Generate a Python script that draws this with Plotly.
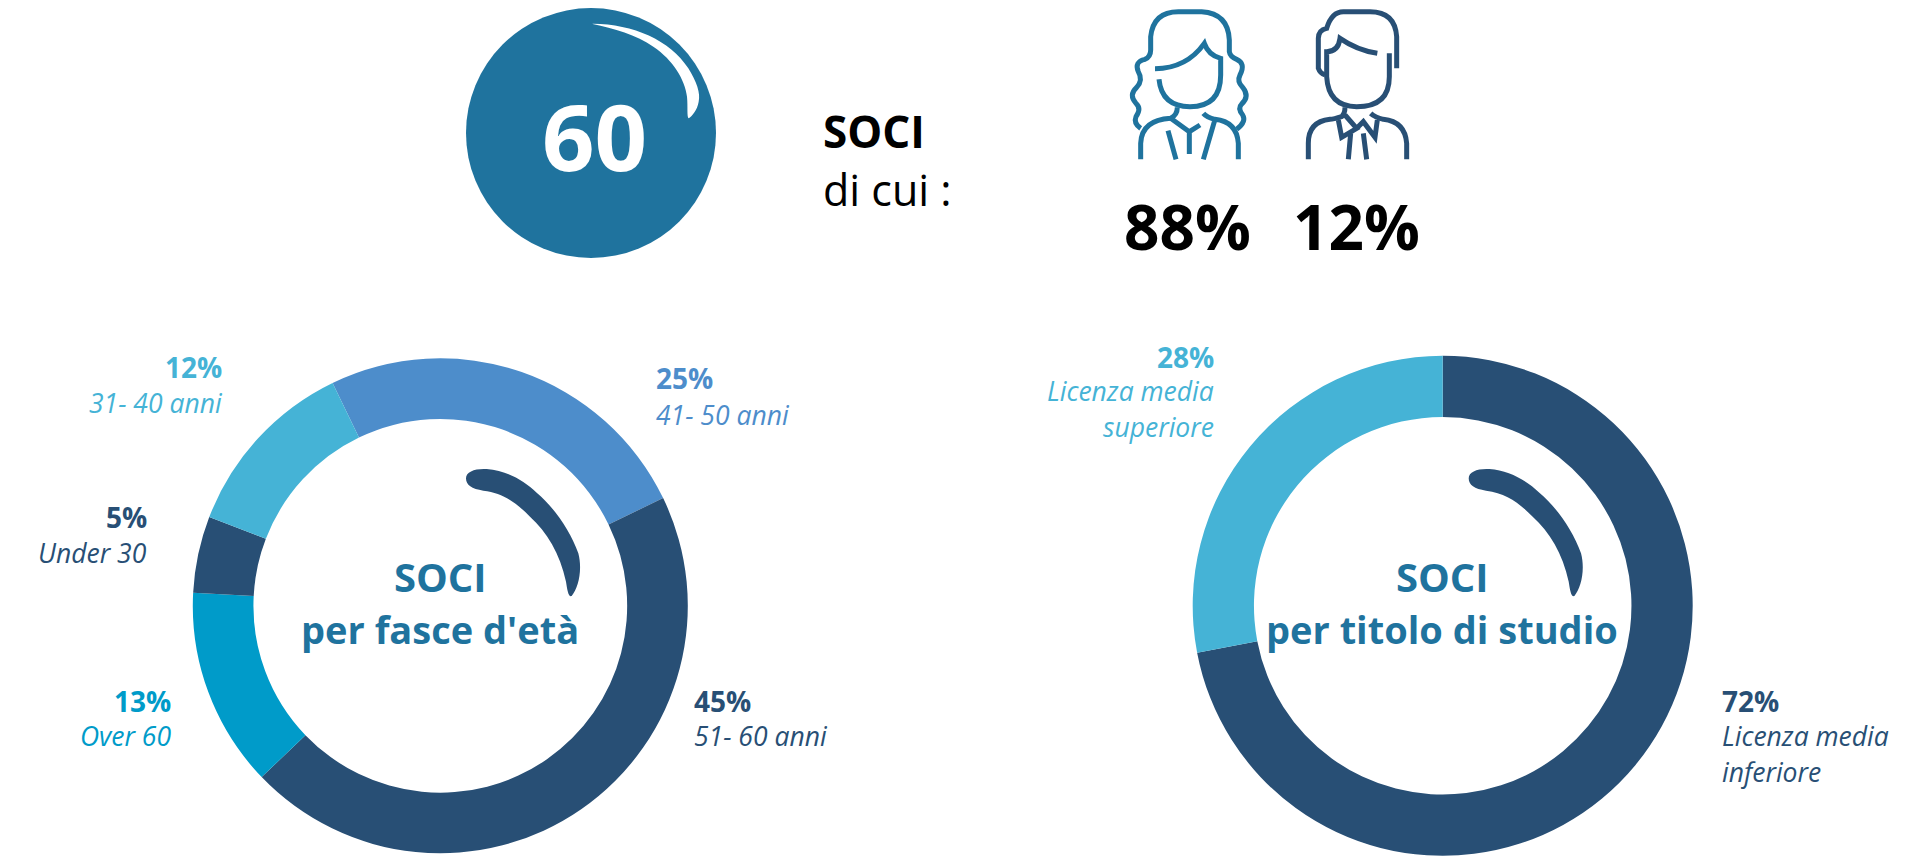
import re
import plotly.graph_objects as go

W, H = 1929, 857
DARK, TEAL, BLUE, SKY, CYAN = "#284f75", "#1f739e", "#4d8dcb", "#45b3d6", "#009bc9"
FONT = "Open Sans"

# Data
age_categories = ["41- 50 anni", "51- 60 anni", "Over 60", "Under 30", "31- 40 anni"]
age_values = [25, 45, 13, 5, 12]
age_colors = [BLUE, DARK, CYAN, DARK, SKY]
study_categories = ["Licenza media inferiore", "Licenza media superiore"]
study_values = [72, 28]
study_colors = [DARK, SKY]
total_members = 60
women_share = 88
men_share = 12


def domain(cx, cy, r):
    return dict(x=[(cx - r) / W, (cx + r) / W], y=[1 - (cy + r) / H, 1 - (cy - r) / H])


fig = go.Figure()
fig.add_trace(go.Pie(labels=age_categories, values=age_values, hole=0.755, sort=False,
                     direction="clockwise", rotation=334.2, textinfo="none", hoverinfo="label+percent",
                     marker=dict(colors=age_colors, line=dict(width=0)),
                     domain=domain(440.3, 605.8, 247.5), showlegend=False))
fig.add_trace(go.Pie(labels=study_categories, values=study_values, hole=0.755, sort=False,
                     direction="clockwise", rotation=0, textinfo="none", hoverinfo="label+percent",
                     marker=dict(colors=study_colors, line=dict(width=0)),
                     domain=domain(1442.7, 605.8, 250), showlegend=False))


def tr(path, ox, oy, s=1 / 3):
    """Decorative icon path, written in crop coordinates, mapped to page pixels."""
    out, i = [], 0
    for tok in re.findall(r"[A-Za-z]|-?[\d.]+", path):
        if tok.isalpha():
            out.append(tok)
        else:
            out.append(f"{(ox if i % 2 == 0 else oy) + float(tok) * s:.2f}")
            i += 1
    return " ".join(out)


shapes = [dict(type="circle", x0=466, x1=716, y0=8, y1=258, fillcolor=TEAL, line_width=0, layer="above")]


def filled(path, color, ox, oy):
    shapes.append(dict(type="path", path=tr(path, ox, oy), fillcolor=color, line_width=0, layer="above"))


def stroked(path, color):
    shapes.append(dict(type="path", path=tr(path, 1100, 0), line=dict(color=color, width=5), layer="above"))


filled("M458 71 C580 72 690 120 745 205 C770 245 782 280 776 305 C772 330 755 350 746 355 "
       "C740 350 744 320 741 290 C735 240 700 180 640 140 C590 105 520 85 458 72 Z",
       "#ffffff", 440, 0)
gloss = ("M588 85 C588 65 615 55 650 57 C710 62 760 90 800 128 C850 170 900 240 925 310 C938 360 925 415 905 438 "
         "C895 442 892 420 888 395 C870 310 830 245 780 200 C735 155 700 130 640 122 C605 117 588 105 588 85 Z")
filled(gloss, DARK, 270, 450)
filled(gloss, DARK, 1272.7, 450)

for d in [
    "M122 385 Q100 370 108 350 Q125 325 108 310 Q85 285 110 262 Q130 240 115 215 Q102 185 135 178 Q152 170 152 150 "
    "L152 110 Q160 35 235 35 L305 35 Q385 40 388 120 L388 155 Q390 170 410 178 Q438 190 420 225 Q410 245 428 262 "
    "Q450 290 425 312 Q412 325 428 345 Q440 365 410 388",
    "M165 206 Q260 205 313 130 Q325 165 362 175 L362 225 Q362 320 270 320 Q185 320 177 238",
    "M232 322 Q232 345 212 355 Q125 360 122 430 L122 478",
    "M212 355 L268 395 L300 375 M268 395 L268 462 M204 392 L228 478",
    "M310 340 Q320 352 345 358 Q410 365 415 430 L415 478 M345 358 L310 478",
]:
    stroked(d, TEAL)
for d in [
    "M890 205 L890 110 Q885 35 810 35 L730 35 Q695 35 680 85 Q655 90 655 115 L655 205 Q660 220 675 225",
    "M832 160 Q770 150 720 115 Q715 155 680 155 L680 230 Q685 320 770 320 Q868 320 868 230 L868 160",
    "M735 322 Q735 340 725 350 Q700 358 690 358 Q625 365 625 430 L625 478",
    "M812 340 Q825 352 850 358 Q915 365 920 430 L920 478",
    "M715 360 L725 412 L770 385 L735 345 M770 385 L790 365 L825 412 L832 360",
    "M752 400 L745 478 M790 400 L800 478",
]:
    stroked(d, DARK)


def text(x, y, s, size, color, anchor="left", bold=False, italic=False):
    fig.add_annotation(x=x, y=y, xref="x", yref="y", text=s, showarrow=False, xanchor=anchor, yanchor="middle",
                       font=dict(family=FONT, size=size, color=color, weight="bold" if bold else "normal",
                                 style="italic" if italic else "normal"))


text(594, 135, str(total_members), 92, "#ffffff", "center", bold=True)
text(821, 131, "SOCI", 44, "#000000", bold=True)
text(821, 189, "di cui :", 43, "#000000")
text(1187, 226, f"{women_share}%", 62, "#000000", "center", bold=True)
text(1356, 226, f"{men_share}%", 62, "#000000", "center", bold=True)

# (value, category lines, colour, anchor, x, y of each text line)
labels = [
    (age_values[4], ["31- 40 anni"], SKY, "right", 224, [367, 403]),
    (age_values[0], ["41- 50 anni"], BLUE, "left", 654, [378, 415]),
    (age_values[3], ["Under 30"], DARK, "right", 149, [517, 553]),
    (age_values[2], ["Over 60"], CYAN, "right", 173, [701, 736]),
    (age_values[1], ["51- 60 anni"], DARK, "left", 692, [701, 736]),
    (study_values[1], ["Licenza media", "superiore"], SKY, "right", 1216, [357, 391, 427]),
    (study_values[0], ["Licenza media", "inferiore"], DARK, "left", 1720, [701, 736, 772]),
]
for val, lines, col, anc, x, ys in labels:
    text(x, ys[0], f"{val}%", 28, col, anc, bold=True)
    for ln, y in zip(lines, ys[1:]):
        text(x, y, ln, 26.5, col, anc, italic=True)

text(440, 576, "SOCI", 40, TEAL, "center", bold=True)
text(440, 629, "per fasce d'età", 38, TEAL, "center", bold=True)
text(1442, 576, "SOCI", 40, TEAL, "center", bold=True)
text(1442, 629, "per titolo di studio", 38, TEAL, "center", bold=True)

fig.update_layout(
    width=W, height=H, autosize=False, margin=dict(l=0, r=0, t=0, b=0),
    paper_bgcolor="#ffffff", plot_bgcolor="rgba(0,0,0,0)", shapes=shapes, showlegend=False,
    xaxis=dict(range=[0, W], visible=False, fixedrange=True),
    yaxis=dict(range=[H, 0], visible=False, fixedrange=True),
)
fig.write_html("out.html", config={"displayModeBar": False},
               post_script="document.body.style.margin='0';document.body.style.overflow='hidden';")
